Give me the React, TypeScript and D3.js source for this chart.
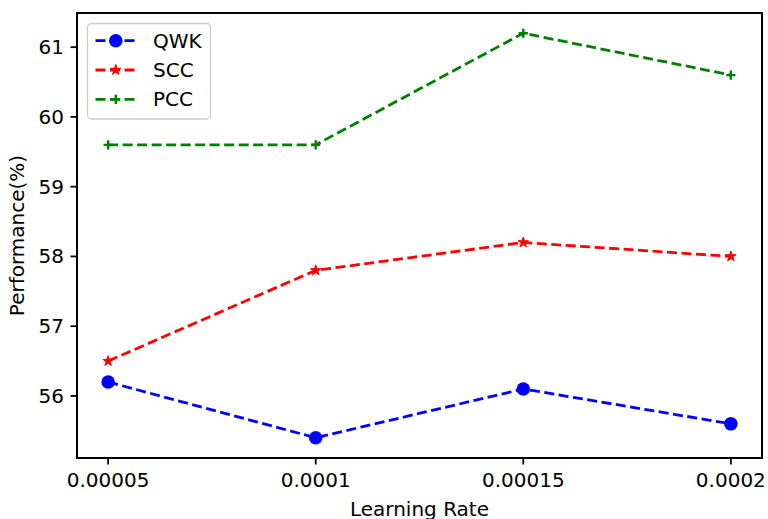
import React from "react";
import * as d3 from "d3";

const rates = [0.00005, 0.0001, 0.00015, 0.0002];
const rateLabels = ["0.00005", "0.0001", "0.00015", "0.0002"];
const qwk = [56.2, 55.4, 56.1, 55.6];
const scc = [56.5, 57.8, 58.2, 58.0];
const pcc = [59.6, 59.6, 61.2, 60.6];
const yTicks = [56, 57, 58, 59, 60, 61];
const seriesNames = ["QWK", "SCC", "PCC"];
const seriesColors = ["#0000ff", "#ff0000", "#008000"];
const seriesMarkers = ["circle", "star", "plus"];

const W = 768, H = 519;
const L = 77, R = 762, T = 13, B = 458;
const FONT = "DejaVu Sans, sans-serif";
const FS = 20;

function Marker({ kind, x, y, color }: { kind: string; x: number; y: number; color: string }) {
  if (kind === "circle") return <circle cx={x} cy={y} r={6.8} fill={color} />;
  if (kind === "star") {
    const p = d3.symbol(d3.symbolStar, 34)();
    return <path d={p || ""} transform={`translate(${x},${y})`} fill={color} stroke={color} strokeWidth={1} />;
  }
  const s = 4.6;
  return (
    <path d={`M${x - s},${y}H${x + s}M${x},${y - s}V${y + s}`} stroke={color} strokeWidth={2.4} fill="none" />
  );
}

export default function App() {
  const x = d3.scaleLinear().domain([0.0000425, 0.0002075]).range([L, R]);
  const all = [...qwk, ...scc, ...pcc];
  const mn = d3.min(all)!, mx = d3.max(all)!;
  const pad = (mx - mn) * 0.05;
  const y = d3.scaleLinear().domain([mn - pad, mx + pad]).range([B, T]);
  const data = [qwk, scc, pcc];
  const line = d3.line<number>().x((_, i) => x(rates[i])).y((d) => y(d));

  return (
    <svg width={W} height={H} style={{ position: "absolute", left: 0, top: 0, background: "#fff" }} fontFamily={FONT}>
      <rect x={0} y={0} width={W} height={H} fill="#fff" />
      {data.map((vals, si) => (
        <g key={si}>
          <path d={line(vals) || ""} fill="none" stroke={seriesColors[si]} strokeWidth={2.8} strokeDasharray="10,4.5" />
          {vals.map((v, i) => (
            <Marker key={i} kind={seriesMarkers[si]} x={x(rates[i])} y={y(v)} color={seriesColors[si]} />
          ))}
        </g>
      ))}
      <rect x={L} y={T} width={R - L} height={B - T} fill="none" stroke="#000" strokeWidth={2} />
      {rates.map((r, i) => (
        <g key={i}>
          <line x1={x(r)} x2={x(r)} y1={B} y2={B + 6.5} stroke="#000" strokeWidth={1.8} />
          <text x={x(r)} y={487} textAnchor="middle" fontSize={FS} fill="#000">{rateLabels[i]}</text>
        </g>
      ))}
      {yTicks.map((t) => (
        <g key={t}>
          <line x1={L - 6.5} x2={L} y1={y(t)} y2={y(t)} stroke="#000" strokeWidth={1.8} />
          <text x={64} y={y(t)} dy="0.35em" textAnchor="end" fontSize={FS} fill="#000">{t}</text>
        </g>
      ))}
      <text x={(L + R) / 2} y={516} textAnchor="middle" fontSize={FS} fill="#000">Learning Rate</text>
      <text transform={`translate(24,${(T + B) / 2}) rotate(-90)`} textAnchor="middle" fontSize={FS} fill="#000">Performance(%)</text>
      <rect x={87.5} y={23.5} width={123} height={95.5} rx={4} fill="#fff" fillOpacity={0.8} stroke="#cccccc" strokeWidth={1.3} />
      {seriesNames.map((n, i) => {
        const ly = 40.7 + i * 29.3;
        return (
          <g key={n}>
            <line x1={95.5} x2={136} y1={ly} y2={ly} stroke={seriesColors[i]} strokeWidth={2.8} strokeDasharray="10,4.5" />
            <Marker kind={seriesMarkers[i]} x={115.8} y={ly} color={seriesColors[i]} />
            <text x={153} y={ly} dy="0.35em" fontSize={FS} fill="#000">{n}</text>
          </g>
        );
      })}
    </svg>
  );
}
